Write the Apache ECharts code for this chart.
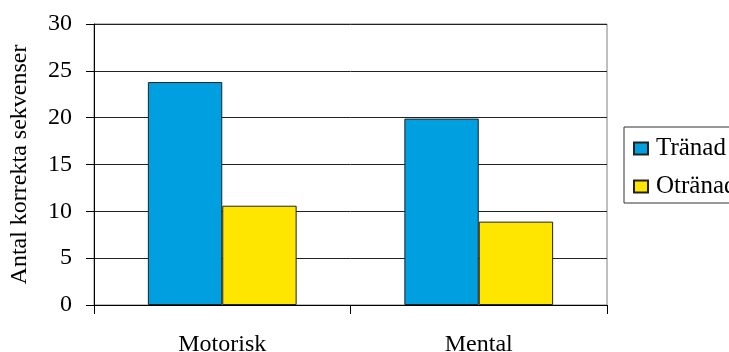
<!DOCTYPE html>
<html>
<head>
<meta charset="utf-8">
<style>
  html, body { margin: 0; padding: 0; background: #fff; }
  #chart { width: 729px; height: 352px; }
</style>
<script src="https://cdn.jsdelivr.net/npm/echarts@6/dist/echarts.min.js"></script>
</head>
<body>
<div id="chart"></div>
<script>
// Categories and values
const categories = ['Motorisk', 'Mental'];
const seriesNames = ['Tränad', 'Otränad'];
const tranad = [23.8, 19.9];
const otranad = [10.6, 8.9];
const yTicks = [0, 5, 10, 15, 20, 25, 30];
const yTitle = 'Antal korrekta sekvenser';

const FONT = '"Liberation Serif", "Times New Roman", serif';

const chart = echarts.init(document.getElementById('chart'), null, { renderer: 'canvas' });

chart.setOption({
  animation: false,
  backgroundColor: '#ffffff',
  textStyle: { fontFamily: FONT },
  grid: {
    left: 94, right: 122, top: 24, bottom: 47,
    containLabel: false,
    outerBoundsMode: 'none',
    show: true, borderColor: '#808080', borderWidth: 1, backgroundColor: 'transparent'
  },
  legend: {
    orient: 'vertical',
    left: 624, top: 127,
    data: seriesNames,
    icon: 'rect',
    itemWidth: 14, itemHeight: 12,
    itemGap: 13,
    padding: [9, 12, 4, 9],
    borderColor: '#333', borderWidth: 1,
    textStyle: { fontFamily: FONT, fontSize: 25, color: '#000', padding: [0, 0, 0, 3] }
  },
  xAxis: {
    type: 'category',
    data: categories,
    axisLine: { lineStyle: { color: '#000', width: 1 } },
    axisTick: { show: true, length: 9, lineStyle: { color: '#000' } },
    axisLabel: { color: '#000', fontFamily: FONT, fontSize: 24, margin: 28 }
  },
  yAxis: {
    type: 'value',
    min: yTicks[0], max: yTicks[yTicks.length - 1], interval: 5,
    name: yTitle,
    nameLocation: 'middle',
    nameRotate: 90,
    nameGap: 62,
    nameTextStyle: { color: '#000', fontFamily: FONT, fontSize: 24 },
    axisLine: { show: true, lineStyle: { color: '#000', width: 1 } },
    axisTick: { show: true, length: 8, lineStyle: { color: '#000' } },
    axisLabel: { color: '#000', fontFamily: FONT, fontSize: 24, margin: 22 },
    splitLine: { show: true, lineStyle: { color: '#222', width: 1 } }
  },
  series: [
    {
      name: seriesNames[0], type: 'bar', data: tranad,
      barGap: '0%', barCategoryGap: '42%',
      itemStyle: { color: '#009FDF', borderColor: '#222', borderWidth: 1 }
    },
    {
      name: seriesNames[1], type: 'bar', data: otranad,
      itemStyle: { color: '#FFE600', borderColor: '#222', borderWidth: 1 }
    }
  ]
});
</script>
</body>
</html>
